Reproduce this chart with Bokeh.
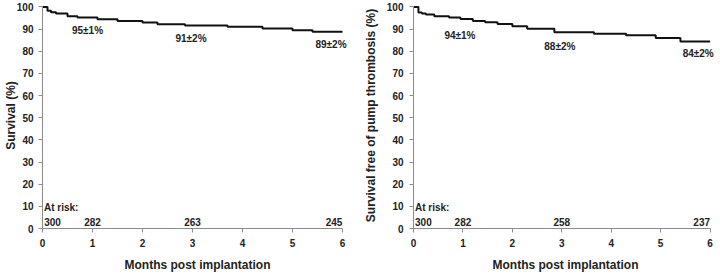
from bokeh.plotting import figure
from bokeh.layouts import row
from bokeh.models import Range1d, FixedTicker, ColumnDataSource
from bokeh.core.properties import value
from bokeh.embed import file_html
from bokeh.resources import INLINE

# ---- data ----
surv_t = [0, 0.1, 0.17, 0.27, 0.5, 0.7, 1.1, 1.5, 2.0, 2.3, 2.85, 3.7, 4.4, 5.0, 5.4, 6.0]
surv_s = [100, 98.3, 97.6, 97.0, 95.8, 95.2, 94.4, 93.7, 93.0, 92.2, 91.6, 91.0, 90.3, 89.5, 88.8, 88.8]

thromb_t = [0, 0.1, 0.17, 0.25, 0.42, 0.72, 0.95, 1.2, 1.45, 1.7, 2.0, 2.3, 2.85, 3.65, 4.3, 4.9, 5.4, 6.0]
thromb_s = [100, 97.5, 97.0, 96.6, 95.8, 95.2, 94.6, 93.7, 93.1, 92.3, 91.3, 90.2, 88.6, 87.9, 87.2, 86.0, 84.4, 84.4]

surv_ann_t = [0.9, 2.97, 5.77]
surv_ann_y = [89.5, 85.9, 83.1]
surv_ann_text = ["95±1%", "91±2%", "89±2%"]

thromb_ann_t = [0.94, 2.96, 5.76]
thromb_ann_y = [87.2, 82.2, 79.1]
thromb_ann_text = ["94±1%", "88±2%", "84±2%"]

risk_t = [0.2, 1.0, 3.0, 5.83]
surv_risk = ["300", "282", "263", "245"]
thromb_risk = ["300", "282", "258", "237"]

x_ticks = [0, 1, 2, 3, 4, 5, 6]
y_ticks = [0, 10, 20, 30, 40, 50, 60, 70, 80, 90, 100]

FONT = value("Liberation Sans")
TXT = "#222222"
AX = "#8c8c8c"


def make(t, s, ann_t, ann_y, ann_text, risk_n, ylabel, left_border, xend, right_border,
         lab_standoff, tick_standoff):
    p = figure(width=360, height=276, output_backend="svg", toolbar_location=None,
               x_range=Range1d(0, xend), y_range=Range1d(0, 102),
               min_border_left=left_border, min_border_right=right_border,
               min_border_top=2, min_border_bottom=48)
    p.outline_line_color = None
    p.xgrid.visible = False
    p.ygrid.visible = False
    p.background_fill_color = "white"
    p.border_fill_color = "white"

    for ax in (p.xaxis[0], p.yaxis[0]):
        ax.axis_line_color = AX
        ax.major_tick_line_color = AX
        ax.minor_tick_line_color = None
        ax.major_tick_in = 0
        ax.major_tick_out = 4
        ax.major_label_text_font = "Liberation Sans"
        ax.major_label_text_font_style = "bold"
        ax.major_label_text_font_size = "10px"
        ax.major_label_text_color = TXT
        ax.axis_label_text_font = "Liberation Sans"
        ax.axis_label_text_font_style = "bold"
        ax.axis_label_text_font_size = "12px"
        ax.axis_label_text_color = TXT
        ax.major_label_standoff = 6

    p.yaxis[0].major_label_standoff = tick_standoff
    p.xaxis[0].ticker = FixedTicker(ticks=x_ticks)
    p.yaxis[0].ticker = FixedTicker(ticks=y_ticks)
    p.xaxis[0].bounds = (0, 6)
    p.yaxis[0].bounds = (0, 100)
    p.xaxis[0].axis_label = "Months post implantation"
    p.xaxis[0].axis_label_standoff = 8
    p.yaxis[0].axis_label = ylabel
    p.yaxis[0].axis_label_standoff = lab_standoff

    p.step(t, s, mode="after", line_color="#111111", line_width=2)

    src = ColumnDataSource(dict(x=ann_t, y=ann_y, text=ann_text))
    p.text("x", "y", text="text", source=src, text_font=FONT, text_font_style="bold",
           text_font_size="10px", text_color=TXT, text_align="center", text_baseline="middle")

    rsrc = ColumnDataSource(dict(x=risk_t, y=[3] * len(risk_t), text=risk_n))
    p.text("x", "y", text="text", source=rsrc, text_font=FONT, text_font_style="bold",
           text_font_size="10px", text_color=TXT, text_align="center", text_baseline="middle")
    p.text(x=[0.03], y=[9.5], text=["At risk:"], text_font=FONT, text_font_style="bold",
           text_font_size="10px", text_color=TXT, text_align="left", text_baseline="middle")
    return p


p1 = make(surv_t, surv_s, surv_ann_t, surv_ann_y, surv_ann_text, surv_risk,
          "Survival (%)", 42, 6.2, 8, -4, 5)
p2 = make(thromb_t, thromb_s, thromb_ann_t, thromb_ann_y, thromb_ann_text, thromb_risk,
          "Survival free of pump thrombosis (%)", 50, 6.15, 3, 6, 6)

layout = row(p1, p2, spacing=0)
open("out.html", "w").write(file_html(layout, INLINE))
